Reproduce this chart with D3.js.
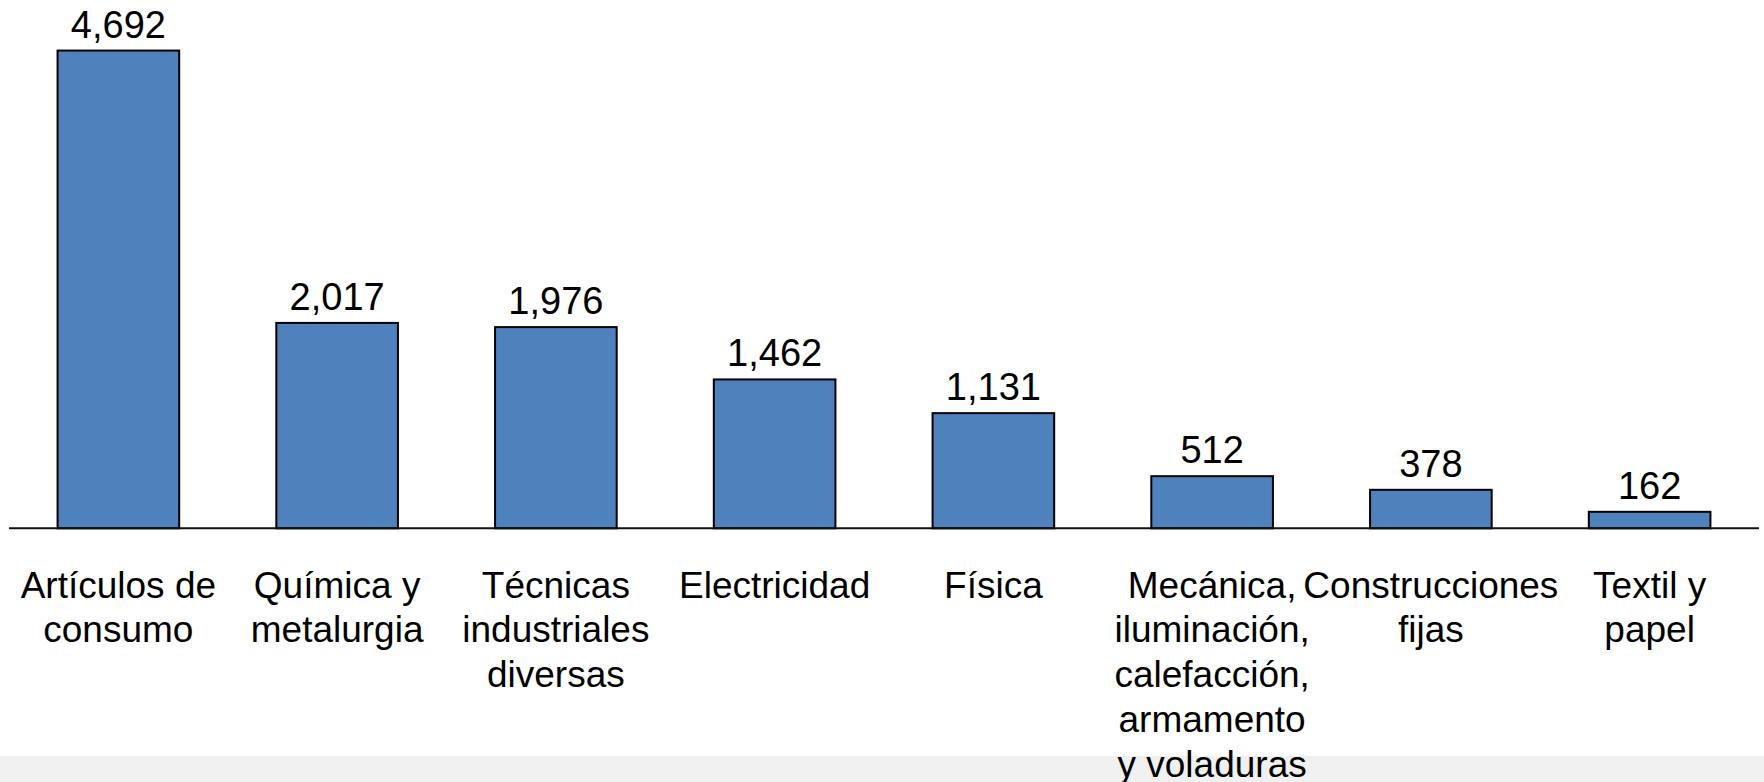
<!DOCTYPE html>
<html>
<head>
<meta charset="utf-8">
<script src="https://cdn.jsdelivr.net/npm/d3@7"></script>
<style>
  html, body { margin: 0; padding: 0; background: #ffffff; }
  svg { display: block; }
  text { font-family: "Liberation Sans", Arial, Helvetica, sans-serif; fill: #000; }
</style>
</head>
<body>
<svg id="chart" width="1764" height="782"></svg>
<script>
// Patent applications by technology field
const categories = [
  "Artículos de\nconsumo",
  "Química y\nmetalurgia",
  "Técnicas\nindustriales\ndiversas",
  "Electricidad",
  "Física",
  "Mecánica,\niluminación,\ncalefacción,\narmamento\ny voladuras",
  "Construcciones\nfijas",
  "Textil y\npapel"
];
const values = [4692, 2017, 1976, 1462, 1131, 512, 378, 162];
const yDomain = [0, 5000];

const W = 1764, H = 782;
const svg = d3.select("#chart");

// light strip along the bottom edge
svg.append("rect")
  .attr("x", 0).attr("y", 756)
  .attr("width", W).attr("height", H - 756)
  .attr("fill", "#f0f0f0");

const x = d3.scaleBand()
  .domain(categories)
  .range([9, 1759])
  .paddingInner(0.444)
  .paddingOuter(0.222);

const y = d3.scaleLinear()
  .domain(yDomain)
  .range([528.3, 19.2]);

// bars
svg.append("g")
  .selectAll("rect")
  .data(values)
  .join("rect")
  .attr("x", (d, i) => x(categories[i]))
  .attr("y", d => y(d))
  .attr("width", x.bandwidth())
  .attr("height", d => y(0) - y(d))
  .attr("fill", "#4f81bd")
  .attr("stroke", "#000")
  .attr("stroke-width", 2);

// baseline
svg.append("line")
  .attr("x1", x.range()[0]).attr("x2", x.range()[1])
  .attr("y1", y(0)).attr("y2", y(0))
  .attr("stroke", "#111")
  .attr("stroke-width", 2);

// value labels
const fmt = d3.format(",");
svg.append("g")
  .selectAll("text")
  .data(values)
  .join("text")
  .attr("x", (d, i) => x(categories[i]) + x.bandwidth() / 2)
  .attr("y", d => y(d) - 13)
  .attr("text-anchor", "middle")
  .attr("font-size", 38)
  .text(d => fmt(d));

// category labels, one tspan per line
const lineH = 44.8;
const firstBase = 597.5;
const cat = svg.append("g")
  .selectAll("text")
  .data(categories)
  .join("text")
  .attr("text-anchor", "middle")
  .attr("font-size", 37)
  .attr("x", d => x(d) + x.bandwidth() / 2)
  .attr("y", firstBase);

cat.selectAll("tspan")
  .data(d => d.split("\n").map(t => ({ t, c: d })))
  .join("tspan")
  .attr("x", d => x(d.c) + x.bandwidth() / 2)
  .attr("y", (d, i) => firstBase + i * lineH)
  .text(d => d.t);
</script>
</body>
</html>
